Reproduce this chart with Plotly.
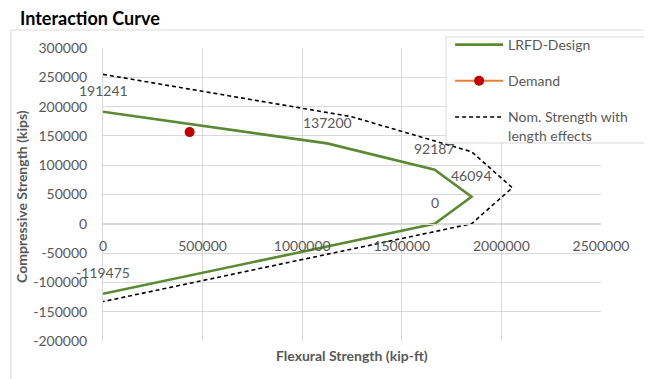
import plotly.graph_objects as go

# ---- data ----
lrfd_x = [0, 1125000, 1665000, 1850000, 1665000, 0]
lrfd_y = [191241, 137200, 92187, 46094, 0, -119475]
lrfd_labels = ["191241", "137200", "92187", "46094", "0", "-119475"]

nom_x = [0, 1245000, 1850000, 2055000, 1850000, 0]
nom_y = [255000, 183000, 123000, 61500, 0, -132750]

demand_x = [435000]
demand_y = [156500]

x_ticks = [0, 500000, 1000000, 1500000, 2000000, 2500000]
y_ticks = [-200000, -150000, -100000, -50000, 0, 50000, 100000, 150000, 200000, 250000, 300000]

FONT = "Lato"
GRAY = "#595959"
GRID = "#d9d9d9"

fig = go.Figure()
fig.add_trace(go.Scatter(x=lrfd_x, y=lrfd_y, mode="lines", name="LRFD-Design",
                         line=dict(color="#5a8a32", width=2.6), legendgroup="a"))
fig.add_trace(go.Scatter(x=demand_x, y=demand_y, mode="lines+markers", name="Demand",
                         line=dict(color="#ed7d31", width=2),
                         marker=dict(color="#c00000", size=10), legendgroup="b"))
fig.add_trace(go.Scatter(x=nom_x, y=nom_y, mode="lines",
                         name="Nom. Strength with<br>length effects",
                         line=dict(color="#000000", width=1.6, dash="4px,3px"), legendgroup="c"))

annotations = []
for xv, yv, t in zip(lrfd_x, lrfd_y, lrfd_labels):
    annotations.append(dict(x=xv, y=yv, xref="x", yref="y", text=t, showarrow=False,
                            yshift=21, font=dict(family=FONT, size=14, color=GRAY)))
annotations.append(dict(x=0.5, y=-0.048, xref="paper", yref="paper",
                        text="<b>Flexural Strength (kip-ft)</b>", showarrow=False,
                        xanchor="center", yanchor="middle",
                        font=dict(family=FONT, size=14, color=GRAY)))
annotations.append(dict(x=-0.1627, y=0.495, xref="paper", yref="paper",
                        text="<b>Compressive Strength (kips)</b>", showarrow=False,
                        textangle=-90, xanchor="center", yanchor="middle",
                        font=dict(family=FONT, size=14, color=GRAY)))

fig.update_layout(
    width=652, height=379,
    margin=dict(l=95, r=59, t=40, b=46, autoexpand=False),
    paper_bgcolor="white", plot_bgcolor="white",
    font=dict(family=FONT, size=14, color=GRAY),
    title=dict(text="<b>Interaction Curve</b>", xref="container", yref="container",
               x=0.0184, y=0.971, xanchor="left", yanchor="middle",
               pad=dict(l=0, r=0, t=0, b=0),
               font=dict(family=FONT, size=18, color="#000000")),
    xaxis=dict(range=[0, 2500000], tickvals=x_ticks, ticktext=[str(v) for v in x_ticks],
               showgrid=True, gridcolor=GRID, gridwidth=1, zeroline=False,
               showline=True, linecolor=GRID, linewidth=1,
               anchor="free", position=0.4, automargin=False,
               ticks="outside", ticklen=9, tickcolor="rgba(0,0,0,0)",
               tickfont=dict(family=FONT, size=14, color=GRAY)),
    yaxis=dict(range=[-200000, 300000], tickvals=y_ticks, ticktext=[str(v) for v in y_ticks],
               showgrid=True, gridcolor=GRID, gridwidth=1, zeroline=False,
               showline=True, linecolor=GRID, linewidth=1, automargin=False,
               ticks="outside", ticklen=12, tickcolor="rgba(0,0,0,0)",
               tickfont=dict(family=FONT, size=14, color=GRAY)),
    legend=dict(x=0.697, y=1.0648, xanchor="left", yanchor="top",
                bgcolor="rgba(0,0,0,0)", borderwidth=0,
                traceorder="grouped", tracegroupgap=15, valign="top",
                itemwidth=48,
                font=dict(family=FONT, size=14, color=GRAY)),
    annotations=annotations,
    shapes=[dict(type="rect", xref="paper", yref="paper",
                 x0=-0.1847, x1=1.12, y0=-0.14, y1=1.0614,
                 line=dict(color=GRID, width=1), fillcolor="rgba(0,0,0,0)", layer="below"),
            dict(type="rect", xref="paper", yref="paper",
                 x0=0.6888, x1=1.0964, y0=0.6758, y1=1.0375,
                 line=dict(color=GRID, width=1), fillcolor="white", layer="above")],
)

fig.write_html("out.html")
